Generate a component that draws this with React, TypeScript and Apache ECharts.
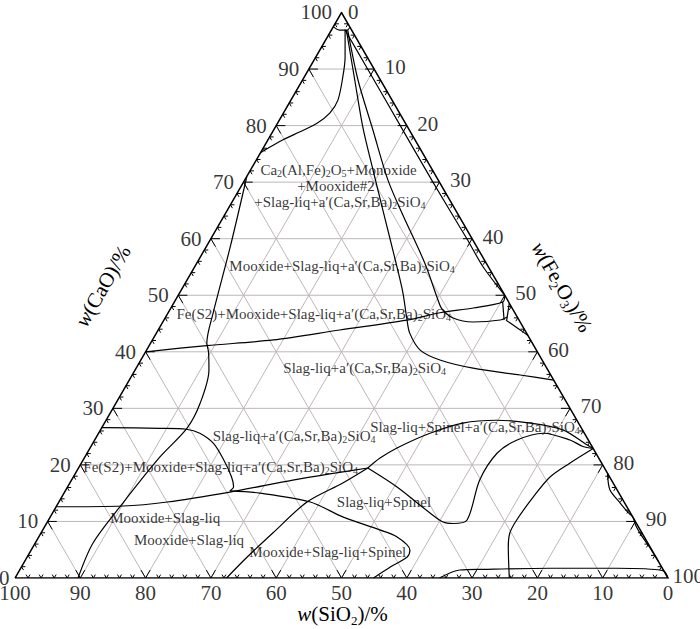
import React, { useEffect, useRef } from "react";
import * as echarts from "echarts";

// Every point is [CaO, Fe2O3] in w%; SiO2 = 100 - CaO - Fe2O3
const cornerValues = [0, 10, 20, 30, 40, 50, 60, 70, 80, 90, 100];
const gridLevels = [10, 20, 30, 40, 50, 60, 70, 80, 90];
const tickStep = 2;

const curveApex = [[97.5, 0], [96.9, 1.2], [96.9, 2.4], [97.4, 2.6]];
const curveA = [[96.9, 2.1], [92.1, 4.5], [88.6, 5.9], [84.5, 7.2], [82.2, 7.1], [80.4, 6.05], [78.9, 4.2], [77.5, 2.3], [76.2, 0.95], [75.2, 0]];
const curveB = [[96.9, 2.3], [88.06, 8.0], [79.58, 13.5], [72.15, 18.75], [65.07, 23.8], [55.7, 30.5], [50.57, 34.1], [45.98, 37.0], [43.3, 38.8], [40.3, 41.9], [38.55, 45.8], [37.1, 51.6], [35.9, 59.4], [35, 65]];
const curveC = [[96.9, 2.5], [88.06, 8.5], [79.22, 15.2], [70.4, 21.9], [64.19, 27.3], [55.7, 34.9], [49.16, 40.2], [47.57, 41.6], [45.98, 44.1], [45.27, 47.5], [45.62, 51.5], [46.15, 52.3]];
const curveD = [[97, 2], [90, 9], [80, 19], [70, 29], [60, 39.2], [55, 44.2], [50, 50]];
const curveE = [[40, 0], [41.1, 8.8], [42.1, 18.5], [43.85, 27.8], [45.6, 37.2], [46.9, 41.65], [47.75, 46.3], [48.8, 50.3], [50, 50]];
const curveF = [[71, 0], [58.5, 3.7], [46.9, 6.9], [41.55, 8.6], [39.97, 9.65], [36.8, 11.3], [30.9, 12.9], [26.5, 13.1], [21.4, 11.5], [13.3, 9.9], [6.2, 8.85], [0, 9.65]];
const curveG = [[26.6, 0], [26.47, 9.0], [26.3, 13.1], [25.6, 15.5], [23.8, 18.5], [20.9, 21.5], [17.9, 24.2], [16.15, 25.4], [15.4, 25.2]];
const curveH = [[12.6, 0], [12.73, 10.2], [13.44, 16.6], [15.2, 25.3], [17.3, 33.9], [18.4, 39.0], [19.45, 44.3]];
const curveI = [[0, 32.4], [3.71, 33.7], [7.96, 35.5], [13.44, 38.0], [16.8, 41.8], [19.45, 44.3]];
const curveK = [[15.4, 25.2], [15.0, 30.0], [13.44, 38.5], [10.8, 44.8], [8.5, 51.6], [7.25, 54.9], [4.95, 58.0], [3.71, 58.2], [1.95, 56.5], [0, 54.9]];
const curveL = [[19.45, 44.3], [21.2, 45.3], [23.0, 47.0], [25.6, 50.75], [27.4, 54.9], [27.9, 59.8], [27.4, 65.2], [26.2, 70.8], [23.5, 75.9], [22.9, 77.1]];
const curveM = [[19.45, 44.3], [16.1, 50.45], [11.5, 57.8], [9.9, 60.6], [9.64, 62.3], [10.26, 64.1], [17.33, 62.5], [22.1, 62.8], [24.4, 64.7], [25.6, 68.1], [24.4, 72.8], [23.25, 75.35], [22.9, 77.1]];
const curveN = [[0, 75.7], [5.48, 72.8], [7.96, 71.8], [10.26, 71.7], [14.3, 72.2], [17.86, 73.0], [20.3, 74.8], [22.9, 77.1]];
const curveO = [[0, 65], [1.41, 67.4], [1.54, 70.9], [1.72, 81.1], [1.72, 91.3], [1.29, 98.6], [0, 100]];
const curveP = [[18.5, 81.5], [15.6, 83.3], [13.3, 86.0], [11.5, 88.2], [10.8, 89.2], [9.2, 90.5], [7.5, 92.2], [5.5, 94.4], [3.0, 97.0]];
const curveQ1 = [[48.86, 50.25], [45.6, 52.1]];
const curveQ2 = [[48.6, 51.4], [45.6, 52.5]];
const curveQ3 = [[45.6, 52.4], [44, 55.2], [42.9, 57.1]];

const boundaries = [curveApex, curveA, curveB, curveC, curveD, curveE, curveF, curveG, curveH, curveI, curveK, curveL, curveM, curveN, curveO, curveP, curveQ1, curveQ2, curveQ3];

const regionNames = [
  "Ca{s|2}(Al,Fe){s|2}O{s|5}+Monoxide",
  "+Mooxide#2",
  "+Slag-liq+a′(Ca,Sr,Ba){s|2}SiO{s|4}",
  "Mooxide+Slag-liq+a′(Ca,Sr,Ba){s|2}SiO{s|4}",
  "Fe(S2)+Mooxide+Slag-liq+a′(Ca,Sr,Ba){s|2}SiO{s|4}",
  "Slag-liq+a′(Ca,Sr,Ba){s|2}SiO{s|4}",
  "Slag-liq+a′(Ca,Sr,Ba){s|2}SiO{s|4}",
  "Slag-liq+Spinel+a′(Ca,Sr,Ba){s|2}SiO{s|4}",
  "Fe(S2)+Mooxide+Slag-liq+a′(Ca,Sr,Ba){s|2}SiO{s|4}",
  "Slag-liq+Spinel",
  "Mooxide+Slag-liq",
  "Mooxide+Slag-liq",
  "Mooxide+Slag-liq+Spinel",
];
const regionAnchors = [
  [72.1, 13.5], [69.3, 14.5], [66.5, 16.5], [55.17, 22.5], [46.7, 22.4], [37.1, 35.0],
  [25.1, 30.2], [26.7, 57.1], [19.6, 21.7], [13.4, 49.8], [10.6, 17.7], [6.7, 23.3], [4.6, 45.6],
];

const FONT = '"Liberation Serif", "Times New Roman", serif';
const MAJOR = 1.4;
const MINOR = 0.6;

const tx = (p: number[]) => [p[1] + p[0] / 2, p[0]];

function buildOption() {
  const gridSegs: number[][][] = [];
  gridLevels.forEach((k) => {
    gridSegs.push([[k, 0], [k, 100 - k]]);
    gridSegs.push([[0, k], [100 - k, k]]);
    gridSegs.push([[0, 100 - k], [100 - k, 0]]);
  });
  const tickSegs: number[][][] = [];
  for (let v = tickStep; v < 100; v += tickStep) {
    const d = v % 10 === 0 ? MAJOR : MINOR;
    tickSegs.push([[v, 0], [v, d]], [[v, 0], [v - d, d]]);
    tickSegs.push([[0, 100 - v], [d, 100 - v]], [[0, 100 - v], [d, 100 - v - d]]);
    tickSegs.push([[100 - v, v], [100 - v, v - d]], [[100 - v, v], [100 - v - d, v]]);
  }
  const edge = [[0, 0], [0, 100], [100, 0], [0, 0]];

  const linesSeries = (segs: number[][][], color: string, width: number, z: number) => ({
    type: "lines",
    coordinateSystem: "cartesian2d",
    polyline: true,
    silent: true,
    z,
    lineStyle: { color, width, opacity: 1 },
    data: segs.map((s) => ({ coords: s.map(tx) })),
  });

  const tickLabel = { fontSize: 21, fontFamily: FONT, color: "#000" };

  const series: any[] = [
    linesSeries(gridSegs, "#bfb7b7", 1, 1),
    linesSeries(tickSegs, "#000", 1, 2),
    linesSeries([edge], "#000", 1.5, 3),
  ];
  boundaries.forEach((c) => {
    series.push({
      type: "line",
      data: c.map(tx),
      smooth: 0.3,
      showSymbol: false,
      symbol: "none",
      silent: true,
      z: 4,
      lineStyle: { color: "#000", width: 1.2 },
    });
  });
  const scatterBase = {
    type: "scatter",
    symbolSize: 1,
    silent: true,
    z: 5,
    itemStyle: { color: "rgba(0,0,0,0)" },
  };
  series.push({
    ...scatterBase,
    data: cornerValues.map((c) => ({
      value: tx([c, 0]),
      name: String(c),
      label: c === 100 ? { offset: [0, -1] } : c === 0 ? { offset: [4, 0] } : undefined,
    })),
    label: { show: true, position: "left", distance: 9, formatter: (p: any) => p.name, ...tickLabel },
  });
  series.push({
    ...scatterBase,
    data: cornerValues.map((f) => ({
      value: tx([100 - f, f]),
      name: String(f),
      label: f === 100 ? { offset: [-5, -2] } : f === 0 ? { offset: [-3, -1] } : { offset: [1, -2] },
    })),
    label: { show: true, position: "right", distance: 9, formatter: (p: any) => p.name, ...tickLabel },
  });
  series.push({
    ...scatterBase,
    data: cornerValues.map((s) => ({ value: tx([0, 100 - s]), name: String(s) })),
    label: { show: true, position: "bottom", distance: 4, formatter: (p: any) => p.name, ...tickLabel },
  });
  series.push({
    ...scatterBase,
    data: regionNames.map((n, i) => ({ value: tx(regionAnchors[i]), name: n })),
    label: {
      show: true,
      position: "inside",
      formatter: (p: any) => p.name,
      fontSize: 15,
      lineHeight: 17,
      fontFamily: FONT,
      color: "#000",
      rich: {
        s: { fontSize: 10, lineHeight: 8, verticalAlign: "bottom", fontFamily: FONT, color: "#000" },
      },
    },
  });

  const titleStyle = (text: string) => ({
    text,
    fontSize: 21,
    fontFamily: FONT,
    fill: "#000",
    align: "center",
    verticalAlign: "middle",
    lineHeight: 26,
    rich: {
      i: { fontStyle: "italic", fontSize: 21, fontFamily: FONT, lineHeight: 26, fill: "#000" },
      s: { fontSize: 13, lineHeight: 13, verticalAlign: "bottom", fontFamily: FONT, fill: "#000" },
    },
  });

  return {
    animation: false,
    backgroundColor: "#fff",
    grid: { left: 15, top: 12.5, width: 653, height: 565.5, show: false },
    xAxis: { type: "value", min: 0, max: 100, show: false },
    yAxis: { type: "value", min: 0, max: 100, show: false },
    series,
    graphic: [
      { type: "text", x: 342.5, y: 614, silent: true, style: titleStyle("{i|w}(SiO{s|2})/%") },
      { type: "text", x: 103, y: 286, rotation: Math.PI / 3, silent: true, style: titleStyle("{i|w}(CaO)/%") },
      { type: "text", x: 562, y: 287, rotation: -Math.PI / 3, silent: true, style: titleStyle("{i|w}(Fe{s|2}O{s|3})/%") },
    ],
  };
}

export default function App() {
  const ref = useRef<HTMLDivElement>(null);
  useEffect(() => {
    if (!ref.current) return;
    const chart = echarts.init(ref.current, null, { renderer: "svg" });
    chart.setOption(buildOption() as any);
    return () => chart.dispose();
  }, []);
  return <div ref={ref} style={{ position: "absolute", left: 0, top: 0, width: 700, height: 629 }} />;
}
